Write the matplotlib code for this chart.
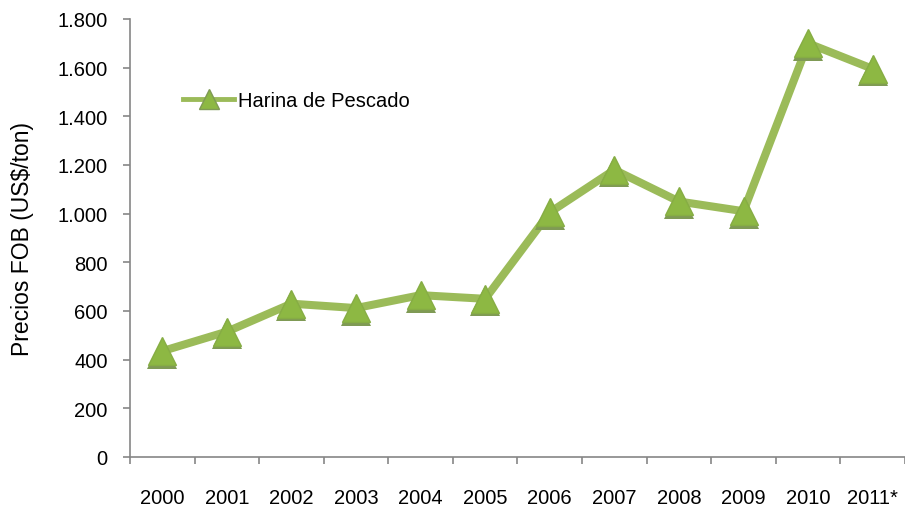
import matplotlib
matplotlib.use('Agg')
import matplotlib.pyplot as plt
import matplotlib.transforms as mtransforms
import numpy as np

### data
years = ['2000', '2001', '2002', '2003', '2004', '2005',
         '2006', '2007', '2008', '2009', '2010', '2011*']
precios = [435, 515, 630, 612, 665, 650, 1005, 1180, 1050, 1010, 1700, 1595]
serie = 'Harina de Pescado'
y_ticks = [0, 200, 400, 600, 800, 1000, 1200, 1400, 1600, 1800]
y_tick_labels = ['0', '200', '400', '600', '800', '1.000',
                 '1.200', '1.400', '1.600', '1.800']

plt.rcParams['font.family'] = ['Liberation Sans', 'DejaVu Sans']
fs = 14.5

fig = plt.figure(figsize=(9.05, 5.06), dpi=100)
ax = fig.add_axes([0.1436, 0.0949, 0.8564, 0.8656])

x = np.arange(len(years))
line_col = '#9bbb59'
axis_col = '#868686'

ax.plot(x, precios, color=line_col, lw=5.8, solid_capstyle='butt', zorder=2)
# darker base of the markers (shadow-like), shifted down a little
shift = mtransforms.offset_copy(ax.transData, fig=fig, x=0, y=-2.5, units='dots')
ax.plot(x, precios, linestyle='none', marker='^', markersize=21,
        color='#7f9a55', markeredgewidth=0, transform=shift, zorder=3)
ax.plot(x, precios, linestyle='none', marker='^', markersize=20,
        markerfacecolor='#8db843', markeredgecolor='#86ad44',
        markeredgewidth=1, zorder=4)

# legend handle
ax.plot([], [], color=line_col, lw=3.5, marker='^', markersize=15,
        markerfacecolor='#8db843', markeredgecolor='#7f9a55', label=serie)
leg = ax.legend(loc='center left', bbox_to_anchor=(0.056, 0.813), frameon=False,
                fontsize=fs, handlelength=2.5, handletextpad=0.2, borderpad=0)

ax.set_xlim(-0.5, len(years) - 0.5)
ax.set_ylim(0, 1800)

ax.set_xticks(x)
ax.set_xticklabels(years, fontsize=fs)
ax.set_xticks(np.arange(len(years) + 1) - 0.5, minor=True)
ax.tick_params(axis='x', which='major', length=0, pad=22)
ax.tick_params(axis='x', which='minor', length=5, width=1.2, color=axis_col, direction='out')

ax.set_yticks(y_ticks)
ax.set_yticklabels(y_tick_labels, fontsize=fs)
ax.tick_params(axis='y', length=5, width=1.2, color=axis_col, direction='out', pad=11)

ax.set_ylabel('Precios FOB (US$/ton)', fontsize=16.5)
ax.yaxis.set_label_coords(-0.124, 0.5)

for s in ['top', 'right']:
    ax.spines[s].set_visible(False)
for s in ['left', 'bottom']:
    ax.spines[s].set_color(axis_col)
    ax.spines[s].set_linewidth(1.2)

fig.savefig('out.png', dpi=100)
